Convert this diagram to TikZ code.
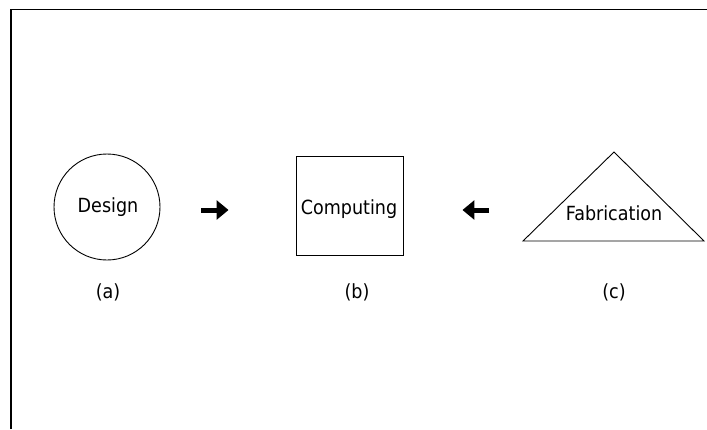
\documentclass[tikz,border=0pt]{standalone}
\usepackage{graphicx}
\usepackage{fontspec}
\setmainfont{DejaVu Sans}
\usetikzlibrary{calc}
\usetikzlibrary{arrows.meta}
\newcommand{\lbl}[1]{\scalebox{.9}[1]{#1}}

\begin{document}
\begin{tikzpicture}[x=1pt, y=-1pt,
  txt/.style={anchor=base, inner sep=0pt, font=\fontsize{19.5}{23}\selectfont},
  shapeline/.style={line width=.9pt},
  fatarrow/.style={line width=5pt, -{Triangle[length=12pt,width=19pt]}}]
\useasboundingbox (0,0) rectangle (707,429);

% frame
\draw[line width=1.3pt] (11,429) -- (11,9.5) -- (707,9.5);

% (a) design
\node[draw, circle, shapeline, minimum size=106pt, inner sep=0pt] (design) at (107,207) {};
\node[txt] (designtxt) at (108,212) {\lbl{Design}};
\node[txt] (la) at (108,298) {\lbl{(a)}};

% (b) computing
\node[draw, shapeline, minimum width=107pt, minimum height=99pt, inner sep=0pt] (comp) at (349.5,205.5) {};
\node[txt] (comptxt) at (349,214) {\lbl{Computing}};
\node[txt] (lb) at (357,298) {\lbl{(b)}};

% (c) fabrication
\coordinate (apex) at (614,152);
\coordinate (tbl) at (523,241);
\coordinate (tbr) at (704,241);
\draw[shapeline] (apex) -- (tbl) -- (tbr) -- cycle;
\node[txt] (fabtxt) at (614,220) {\lbl{Fabrication}};
\node[txt] (lc) at (614,298) {\lbl{(c)}};

% arrows
\draw[fatarrow, shorten <=41pt, shorten >=67pt] ([yshift=-3pt]design.east) -- ([yshift=-3pt]design.east -| comp.west);
\draw[fatarrow, shorten <=34pt, shorten >=59pt] ([yshift=31pt]tbl) -- ([yshift=31pt]tbl -| comp.east);
\end{tikzpicture}
\end{document}
